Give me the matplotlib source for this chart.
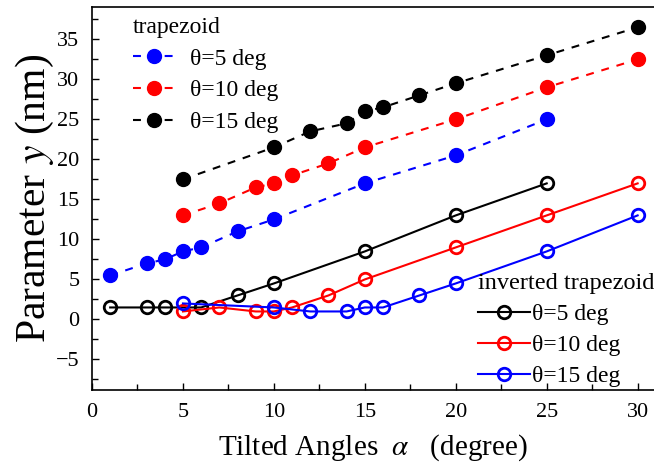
import numpy as np
import matplotlib
matplotlib.use("Agg")
import matplotlib.pyplot as plt
from matplotlib.ticker import MultipleLocator

plt.rcParams["font.family"] = ["Liberation Serif", "DejaVu Serif"]
plt.rcParams["mathtext.fontset"] = "stix"

# trapezoid (filled, dashed)
trap_x5 = [1, 3, 4, 5, 6, 8, 10, 15, 20, 25]
trap_y5 = [5.5, 7, 7.5, 8.5, 9, 11, 12.5, 17, 20.5, 25]
trap_x10 = [5, 7, 9, 10, 11, 13, 15, 20, 25, 30]
trap_y10 = [13, 14.5, 16.5, 17, 18, 19.5, 21.5, 25, 29, 32.5]
trap_x15 = [5, 10, 12, 14, 15, 16, 18, 20, 25, 30]
trap_y15 = [17.5, 21.5, 23.5, 24.5, 26, 26.5, 28, 29.5, 33, 36.5]

# inverted trapezoid (open, solid)
inv_x5 = [1, 3, 4, 6, 8, 10, 15, 20, 25]
inv_y5 = [1.5, 1.5, 1.5, 1.5, 3, 4.5, 8.5, 13, 17]
inv_x10 = [5, 7, 9, 10, 11, 13, 15, 20, 25, 30]
inv_y10 = [1, 1.5, 1, 1, 1.5, 3, 5, 9, 13, 17]
inv_x15 = [5, 10, 12, 14, 15, 16, 18, 20, 25, 30]
inv_y15 = [2, 1.5, 1, 1, 1.5, 1.5, 3, 4.5, 8.5, 13]

labels = ["\u03b8=5 deg", "\u03b8=10 deg", "\u03b8=15 deg"]

fig = plt.figure(figsize=(6.54, 4.68), dpi=100)
ax = fig.add_axes([92 / 654, 1 - 389.5 / 468, 1 - 92 / 654, (389.5 - 7.3) / 468])

lw = 1.5
trap_lines = []
for x, y, c, lab in [(trap_x5, trap_y5, "#0000ff", labels[0]),
                     (trap_x10, trap_y10, "#ff0000", labels[1]),
                     (trap_x15, trap_y15, "black", labels[2])]:
    ln, = ax.plot(x, y, linestyle=(0, (3.8, 3.8)), color=c, lw=lw, marker="o",
                  markersize=10, markerfacecolor=c, markeredgecolor=c, label=lab)
    trap_lines.append(ln)

inv_lines = []
for x, y, c, lab in [(inv_x5, inv_y5, "black", labels[0]),
                     (inv_x10, inv_y10, "#ff0000", labels[1]),
                     (inv_x15, inv_y15, "#0000ff", labels[2])]:
    ln, = ax.plot(x, y, linestyle="-", color=c, lw=lw, marker="o",
                  markersize=9, markerfacecolor="none", markeredgecolor=c,
                  markeredgewidth=2, label=lab)
    inv_lines.append(ln)

ax.set_xlim(0, 30.9)
ax.set_ylim(-8.75, 39)
ax.xaxis.set_major_locator(MultipleLocator(5))
ax.xaxis.set_minor_locator(MultipleLocator(2.5))
ax.yaxis.set_major_locator(MultipleLocator(5))
ax.yaxis.set_minor_locator(MultipleLocator(2.5))
ax.tick_params(which="both", direction="in", top=False, right=False,
               labelsize=16, width=1)
ax.tick_params(axis="x", which="both", pad=10)
ax.tick_params(axis="y", which="both", pad=9)
ax.tick_params(which="major", length=5)
ax.tick_params(which="minor", length=4)
ax.spines["right"].set_visible(False)
for s in ["left", "bottom", "top"]:
    ax.spines[s].set_linewidth(1.2)

ax.set_xlabel(r"Tilted Angles  $\alpha$   (degree)", fontsize=21, labelpad=7)
ax.set_ylabel(r"Parameter $y$ (nm)", fontsize=30, labelpad=0)

leg1 = ax.legend(handles=trap_lines, title="trapezoid", loc="upper left",
                 bbox_to_anchor=(0.073, 0.975), frameon=False, fontsize=17,
                 title_fontsize=17, handlelength=1.8, handletextpad=0.6,
                 labelspacing=0.43, borderpad=0, borderaxespad=0)
leg1._legend_box.align = "left"
ax.add_artist(leg1)

leg2 = ax.legend(handles=inv_lines, title="inverted trapezoid", loc="upper left",
                 bbox_to_anchor=(0.687, 0.305), frameon=False, fontsize=17,
                 title_fontsize=17.5, handlelength=2.2, handletextpad=0.1,
                 labelspacing=0.4, borderpad=0, borderaxespad=0)
leg2._legend_box.align = "left"

fig.savefig("out.png", dpi=100)
